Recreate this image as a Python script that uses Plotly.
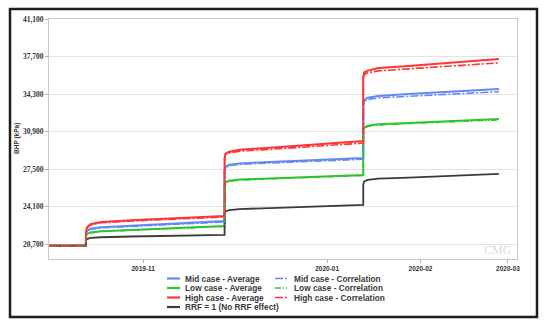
import plotly.graph_objects as go

# ---------------- data ----------------
times = [
    "2019-09-30", "2019-10-13", "2019-10-13", "2019-10-13 07:12", "2019-10-14 12:00",
    "2019-10-18", "2019-10-28", "2019-11-28", "2019-11-28", "2019-11-28 07:12",
    "2019-11-29 12:00", "2019-12-03", "2019-12-13", "2020-01-13", "2020-01-13",
    "2020-01-13 07:12", "2020-01-14 12:00", "2020-01-18", "2020-01-28", "2020-02-27",
]

mid_avg = [20550, 20550, 21500, 21900, 22080, 22220, 22360, 22790, 27300, 27700,
           27880, 28010, 28140, 28500, 33300, 33750, 33960, 34130, 34290, 34750]
mid_corr = [20550, 20550, 21500, 21850, 22030, 22160, 22290, 22700, 27280, 27630,
            27800, 27920, 28040, 28380, 33250, 33650, 33800, 33950, 34090, 34500]
low_avg = [20550, 20550, 21300, 21600, 21750, 21860, 21980, 22330, 26000, 26300,
           26430, 26540, 26650, 26960, 30900, 31250, 31420, 31550, 31680, 32030]
low_corr = [20550, 20550, 21300, 21570, 21720, 21830, 21950, 22290, 26000, 26260,
            26390, 26500, 26610, 26910, 30900, 31200, 31370, 31490, 31620, 31960]
high_avg = [20550, 20550, 21700, 22200, 22500, 22700, 22860, 23240, 28500, 28900,
            29060, 29250, 29430, 30040, 35800, 36250, 36420, 36650, 36850, 37470]
high_corr = [20550, 20550, 21700, 22150, 22430, 22620, 22780, 23150, 28450, 28800,
             28950, 29120, 29280, 29850, 35700, 36050, 36220, 36400, 36580, 37120]
rrf_one = [20550, 20550, 20950, 21150, 21250, 21310, 21380, 21520, 23400, 23650,
           23780, 23870, 23960, 24240, 26100, 26380, 26520, 26620, 26720, 27050]

series_names = [
    "Mid case - Average", "Mid case - Correlation",
    "Low case - Average", "Low case - Correlation",
    "High case - Average", "High case - Correlation",
    "RRF = 1 (No RRF effect)",
]
series_values = [mid_avg, mid_corr, low_avg, low_corr, high_avg, high_corr, rrf_one]

y_tick_vals = [20700, 24100, 27500, 30900, 34300, 37700, 41100]
y_tick_text = ["20,700", "24,100", "27,500", "30,900", "34,300", "37,700", "41,100"]
x_tick_vals = ["2019-11-01", "2020-01-01", "2020-02-01", "2020-03-01"]
x_tick_text = ["2019-11", "2020-01", "2020-02", "2020-03"]
y_title = "BHP (kPa)"

# ---------------- styles ----------------
BLUE, GREEN, RED, BLACK = "#6289f3", "#2fc42f", "#ff3434", "#3a3a3a"
colors = [BLUE, BLUE, GREEN, GREEN, RED, RED, BLACK]
dashes = ["solid", "8px,2px,2px,2px", "solid", "6px,2px,1px,2px,1px,2px",
          "solid", "8px,2px,2px,2px", "solid"]
widths = [2, 1.6, 2, 1.6, 2, 1.6, 1.8]

W, H = 550, 329
L, R, T, B = 49, 33, 19, 70
PW, PH = W - L - R, H - T - B


def px_x(px):
    return (px - L) / PW


def px_y(py):
    return (H - B - py) / PH


fig = go.Figure()
order = [0, 2, 4, 6, 1, 3, 5]
for i in order:
    fig.add_trace(go.Scatter(
        x=times, y=series_values[i], mode="lines", name=series_names[i],
        line=dict(color=colors[i], width=widths[i], dash=dashes[i]),
        showlegend=False, hoverinfo="skip",
    ))

shapes = []
annotations = []

# manual compact legend (two columns)
col_line_x = [(167, 180), (275, 288)]
col_text_x = [183, 292]
row_y = [278.5, 288, 297.5, 307]
for k, name in enumerate(series_names):
    row, col = k // 2, k % 2
    x0, x1 = col_line_x[col]
    yy = row_y[row]
    shapes.append(dict(type="line", xref="paper", yref="paper",
                       x0=px_x(x0), x1=px_x(x1), y0=px_y(yy), y1=px_y(yy),
                       line=dict(color=colors[k], width=2.2 if dashes[k] == "solid" else 1.6,
                                 dash=dashes[k] if dashes[k] != "solid" else None)))
    annotations.append(dict(xref="paper", yref="paper", x=px_x(col_text_x[col]), y=px_y(yy),
                            text="<b>" + name + "</b>", showarrow=False,
                            xanchor="left", yanchor="middle",
                            font=dict(family="Liberation Sans", size=8.3, color="#3a3a3a")))

# outer frame
shapes.append(dict(type="rect", xref="paper", yref="paper",
                   x0=px_x(10), x1=px_x(537), y0=px_y(9), y1=px_y(317),
                   line=dict(color="#1e1e1e", width=2.5), layer="below"))

# y-axis title
annotations.append(dict(xref="paper", yref="paper", x=px_x(17), y=px_y(139),
                        text="<b>" + y_title + "</b>", showarrow=False, textangle=-90,
                        xanchor="center", yanchor="middle",
                        font=dict(family="Liberation Sans", size=6.5, color="#333333")))

# watermark
annotations.append(dict(xref="paper", yref="paper", x=px_x(498), y=px_y(249.5),
                        text="CMG", showarrow=False, xanchor="center", yanchor="middle",
                        font=dict(family="Liberation Serif", size=12, color="#dadada")))

fig.update_layout(
    width=W, height=H,
    margin=dict(l=L, r=R, t=T, b=B, pad=0, autoexpand=False),
    paper_bgcolor="white", plot_bgcolor="white",
    shapes=shapes, annotations=annotations,
    showlegend=False,
    xaxis=dict(
        type="date", range=["2019-09-30 18:00", "2020-03-04"],
        tickvals=x_tick_vals, ticktext=["<b>" + t + "</b>" for t in x_tick_text],
        showgrid=False, zeroline=False, automargin=False,
        showline=True, linecolor="#c8c8c8", linewidth=1, mirror=True,
        ticks="outside", ticklen=3, tickcolor="#b0b0b0",
        tickfont=dict(family="Liberation Sans", size=6.5, color="#333333"),
    ),
    yaxis=dict(
        range=[19340, 41100],
        tickvals=y_tick_vals, ticktext=["<b>" + t + "</b>" for t in y_tick_text],
        showgrid=True, gridcolor="#e2e4e2", gridwidth=1, zeroline=False, automargin=False,
        showline=True, linecolor="#c8c8c8", linewidth=1, mirror=True,
        ticks="outside", ticklen=3, tickcolor="#b0b0b0",
        tickfont=dict(family="Liberation Serif", size=7.5, color="#333333"),
    ),
)

fig.write_html(
    "out.html",
    config={"displayModeBar": False},
    post_script="document.body.style.margin='0';document.body.style.overflow='hidden';",
)
